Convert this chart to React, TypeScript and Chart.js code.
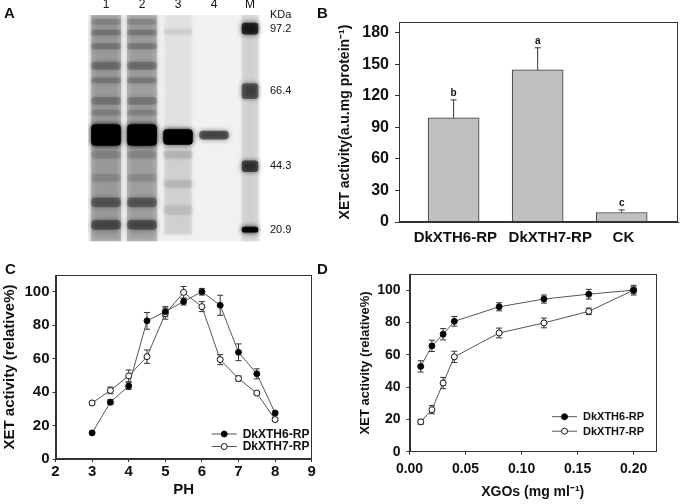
import React, { useEffect, useRef } from "react";
import { Chart, registerables } from "chart.js";

Chart.register(...registerables);

const FONT = "'Liberation Sans', Arial, Helvetica, sans-serif";
Chart.defaults.font.family = FONT;
Chart.defaults.color = "#111";

// ---------------- Panel A : SDS-PAGE gel ----------------
const gelLanes = ["1", "2", "3", "4", "M"];
const gelDepth = 232;
const sampleSmearAlpha = [0.2, 0.19, 0.0, 0.0];
const lane3SmearTop = [0, 135];
const lane3SmearBottom = [120, 225];
const lane3SmearAlpha = [0.03, 0.07];
const lane12Centers = [7, 18, 32, 52, 67, 88, 100, 123, 143, 167, 192, 215];
const lane12Half = [3, 3, 3, 4, 3, 4, 3, 11, 4, 4, 5, 5];
const lane12Alpha = [0.1, 0.16, 0.16, 0.2, 0.16, 0.16, 0.12, 1, 0.1, 0.08, 0.3, 0.36];
const lane3Centers = [17, 125, 143, 173, 200];
const lane3Half = [3, 8, 4, 4, 5];
const lane3Alpha = [0.05, 1, 0.08, 0.07, 0.05];
const lane4Centers = [123];
const lane4Half = [4.5];
const lane4Alpha = [0.5];
const markerCenters = [14, 78, 155, 220];
const markerHalf = [6, 8, 6, 3];
const markerAlpha = [0.7, 0.45, 0.55, 0.95];
const markerKDa = ["97.2", "66.4", "44.3", "20.9"];

// ---------------- Panel B ----------------
const bCategories = ["DkXTH6-RP", "DkXTH7-RP", "CK"];
const bValues = [99, 144.5, 9];
const bErrors = [17, 21, 2.5];
const bLetters = ["b", "a", "c"];
const bLabelAt = [1.02, 2.15, 3.02];

// ---------------- Panel C ----------------
const phValues = [3, 3.5, 4, 4.5, 5, 5.5, 6, 6.5, 7, 7.5, 8];
const cXTH6 = [15.6, 34, 43.6, 82.6, 88.1, 94.1, 100, 91.9, 63.8, 50.9, 27.5];
const cXTH6Err = [1, 1.5, 2, 5, 3, 2, 2, 6, 5, 3, 1];
const cXTH7 = [33.5, 41, 49.7, 61.2, 86.9, 99.6, 91.1, 59.4, 48.1, 39.4, 23.6];
const cXTH7Err = [1, 2, 3.5, 4, 3.3, 3.5, 3, 3, 1.5, 1, 1];

// ---------------- Panel D ----------------
const xgoValues = [0.01, 0.02, 0.03, 0.04, 0.08, 0.12, 0.16, 0.2];
const dXTH6 = [52.8, 65.5, 72.7, 80.7, 89.7, 94.5, 97.5, 100];
const dXTH6Err = [3.5, 3.5, 3.5, 3, 2.5, 2.5, 3, 2];
const dXTH7 = [18.5, 26, 42.5, 58.7, 73.5, 79.7, 86.9, 100];
const dXTH7Err = [1.5, 2.5, 3.5, 3.5, 3, 3, 2, 3];

const seriesLabels = ["DkXTH6-RP", "DkXTH7-RP"];

// ---------------- helpers ----------------
const black = (a: number) => `rgba(0,0,0,${a})`;

function bandData(lane: string, centers: number[], half: number[], extra = 0) {
  return centers.map((c, i) => ({ x: lane, y: [Math.max(0, c - half[i] - extra), Math.min(gelDepth, c + half[i] + extra)] }));
}

const framePlugin = {
  id: "frame",
  afterDraw(chart: any) {
    const { ctx, chartArea } = chart;
    ctx.save();
    ctx.strokeStyle = "#333";
    ctx.lineWidth = 1;
    ctx.strokeRect(Math.round(chartArea.left) + 0.5, Math.round(chartArea.top) + 0.5,
      Math.round(chartArea.right - chartArea.left) - 1, Math.round(chartArea.bottom - chartArea.top) - 1);
    ctx.restore();
  },
};

function errorBarPlugin(errs: number[][], cap: number) {
  return {
    id: "errbars",
    beforeDatasetsDraw(chart: any) {
      const { ctx } = chart;
      const xs = chart.scales.x;
      const ys = chart.scales.y;
      ctx.save();
      ctx.strokeStyle = "#333";
      ctx.lineWidth = 1;
      chart.data.datasets.forEach((ds: any, di: number) => {
        const e = errs[di];
        ds.data.forEach((p: any, i: number) => {
          if (!e[i]) return;
          const x = xs.getPixelForValue(p.x);
          const y1 = ys.getPixelForValue(p.y + e[i]);
          const y2 = ys.getPixelForValue(p.y - e[i]);
          ctx.beginPath();
          ctx.moveTo(x, y1);
          ctx.lineTo(x, y2);
          ctx.moveTo(x - cap, y1);
          ctx.lineTo(x + cap, y1);
          ctx.moveTo(x - cap, y2);
          ctx.lineTo(x + cap, y2);
          ctx.stroke();
        });
      });
      ctx.restore();
    },
  };
}

function legendPlugin(fromRight: number, fromBottom: number, rowGap: number, fontSize: number) {
  return {
    id: "customLegend",
    afterDraw(chart: any) {
      const { ctx, chartArea } = chart;
      ctx.save();
      chart.data.datasets.forEach((ds: any, i: number) => {
        const x0 = chartArea.right - fromRight;
        const y = chartArea.bottom - fromBottom + i * rowGap;
        ctx.strokeStyle = ds.borderColor;
        ctx.lineWidth = 1;
        ctx.beginPath();
        ctx.moveTo(x0, y);
        ctx.lineTo(x0 + 25, y);
        ctx.stroke();
        ctx.beginPath();
        ctx.arc(x0 + 12.5, y, 3, 0, Math.PI * 2);
        ctx.fillStyle = ds.pointBackgroundColor;
        ctx.fill();
        ctx.strokeStyle = ds.pointBorderColor;
        ctx.stroke();
        ctx.fillStyle = "#111";
        ctx.font = `bold ${fontSize}px ${FONT}`;
        ctx.textBaseline = "middle";
        ctx.textAlign = "left";
        ctx.fillText(ds.label, x0 + 31, y + 0.5);
      });
      ctx.restore();
    },
  };
}

// ---------------- configs ----------------
function gelConfig(): any {
  const common = { grouped: false, categoryPercentage: 1, borderWidth: 0, borderSkipped: false };
  const sampleAlpha = [...lane12Alpha, ...lane12Alpha, ...lane3Alpha, ...lane4Alpha];
  const sampleBands = [
    ...bandData("1", lane12Centers, lane12Half),
    ...bandData("2", lane12Centers, lane12Half),
    ...bandData("3", lane3Centers, lane3Half),
    ...bandData("4", lane4Centers, lane4Half),
  ];
  return {
    type: "bar",
    data: {
      labels: gelLanes,
      datasets: [
        {
          ...common,
          barPercentage: 0.84,
          data: gelLanes.slice(0, 4).map((l) => ({ x: l, y: [0, gelDepth] })),
          backgroundColor: sampleSmearAlpha.map(black),
        },
        {
          ...common,
          barPercentage: 0.76,
          data: lane3SmearTop.map((t, i) => ({ x: "3", y: [t, lane3SmearBottom[i]] })),
          backgroundColor: lane3SmearAlpha.map(black),
        },
        {
          ...common,
          barPercentage: 0.46,
          data: [{ x: "M", y: [0, gelDepth] }],
          backgroundColor: [black(0.07)],
        },
        {
          ...common,
          barPercentage: 0.82,
          data: sampleBands,
          backgroundColor: sampleAlpha.map(black),
          borderRadius: 4,
        },
        {
          ...common,
          barPercentage: 0.46,
          data: bandData("M", markerCenters, markerHalf),
          backgroundColor: markerAlpha.map(black),
          borderRadius: 3,
        },
      ],
    },
    options: {
      animation: false,
      responsive: false,
      layout: { padding: { left: 88, top: 0, right: 0, bottom: 3 } },
      plugins: { legend: { display: false }, tooltip: { enabled: false } },
      scales: {
        x: {
          type: "category",
          position: "top",
          offset: true,
          grid: { display: false, drawTicks: false },
          border: { display: false },
          ticks: { font: { size: 12 }, padding: 3, color: "#111" },
          afterFit: (s: any) => { s.height = 15; },
        },
        y: {
          type: "linear",
          position: "right",
          reverse: true,
          min: 0,
          max: gelDepth,
          grid: { display: false, drawTicks: false },
          border: { display: false },
          afterBuildTicks: (s: any) => { s.ticks = markerCenters.map((v) => ({ value: v })); },
          ticks: { font: { size: 11 }, padding: 2, color: "#111", callback: (_v: any, i: number) => markerKDa[i] },
          afterFit: (s: any) => { s.width = 42; },
        },
      },
    },
    plugins: [
      {
        id: "gelbg",
        beforeDatasetsDraw(chart: any) {
          const { ctx, chartArea } = chart;
          ctx.save();
          ctx.fillStyle = "#f1f1f1";
          ctx.fillRect(chartArea.left, chartArea.top, chartArea.right - 8 - chartArea.left, chartArea.bottom - chartArea.top);
          ctx.restore();
          ctx.save();
          ctx.shadowColor = "rgba(0,0,0,1)";
          ctx.shadowBlur = 5;
          ctx.shadowOffsetX = 0;
          ctx.shadowOffsetY = 0;
        },
        afterDatasetsDraw(chart: any) {
          chart.ctx.restore();
        },
        afterDraw(chart: any) {
          const { ctx, chartArea } = chart;
          ctx.save();
          ctx.fillStyle = "#111";
          ctx.font = `11px ${FONT}`;
          ctx.textBaseline = "middle";
          ctx.fillText("KDa", chartArea.right + 2, chartArea.top);
          ctx.restore();
        },
      },
    ],
  };
}

function barConfig(): any {
  return {
    type: "bar",
    data: {
      datasets: [
        {
          data: bValues.map((v, i) => ({ x: i + 1, y: v })),
          backgroundColor: "#c0c0c0",
          borderColor: "#3a3a3a",
          borderWidth: 1,
          borderSkipped: "bottom",
          barThickness: 51,
        },
      ],
    },
    options: {
      animation: false,
      responsive: false,
      layout: { padding: { left: 0, top: 22, right: 2, bottom: 0 } },
      plugins: { legend: { display: false }, tooltip: { enabled: false } },
      scales: {
        x: {
          type: "linear",
          offset: false,
          min: 0.35,
          max: 3.67,
          afterBuildTicks: (s: any) => { s.ticks = bLabelAt.map((v) => ({ value: v })); },
          ticks: { callback: (_v: any, i: number) => bCategories[i], font: { size: 15, weight: "bold" }, padding: 7, color: "#111", maxRotation: 0, autoSkip: false },
          grid: { display: false, drawTicks: false },
          border: { color: "#333" },
          afterFit: (s: any) => { s.height = 28; },
        },
        y: {
          min: 0,
          max: 190,
          ticks: { stepSize: 30, includeBounds: false, font: { size: 16, weight: "bold" }, padding: 6, color: "#111" },
          grid: { drawOnChartArea: false, tickLength: 4, color: "#333" },
          border: { color: "#333" },
          title: { display: true, text: "XET activity(a.u.mg protein⁻¹)", font: { size: 14, weight: "bold" }, color: "#111", padding: { top: 6.6, bottom: 0 } },
          afterFit: (s: any) => { s.width = 69; },
        },
      },
    },
    plugins: [
      framePlugin,
      {
        id: "barErr",
        afterDatasetsDraw(chart: any) {
          const { ctx } = chart;
          const ys = chart.scales.y;
          const meta = chart.getDatasetMeta(0);
          ctx.save();
          ctx.strokeStyle = "#333";
          ctx.lineWidth = 1;
          meta.data.forEach((bar: any, i: number) => {
            const y0 = ys.getPixelForValue(bValues[i]);
            const y1 = ys.getPixelForValue(bValues[i] + bErrors[i]);
            ctx.beginPath();
            ctx.moveTo(bar.x, y0);
            ctx.lineTo(bar.x, y1);
            ctx.moveTo(bar.x - 3, y1);
            ctx.lineTo(bar.x + 3, y1);
            ctx.stroke();
            ctx.fillStyle = "#111";
            ctx.font = `bold 10px ${FONT}`;
            ctx.textAlign = "center";
            ctx.textBaseline = "alphabetic";
            ctx.fillText(bLetters[i], bar.x, y1 - 4);
          });
          ctx.restore();
        },
      },
    ],
  };
}

function lineConfig(p: {
  xs: number[];
  s1: number[];
  s2: number[];
  e1: number[];
  e2: number[];
  xMin: number;
  xMax: number;
  xStep: number;
  xFmt: (v: number) => string;
  xTitle: string;
  tickSize: number;
  yTitleSize: number;
  xTitleSize: number;
  pad: { left: number; top: number; right: number; bottom: number };
  yWidth: number;
  xHeight: number;
  xTickPad: number;
  yTickPad: number;
  xTitlePadBottom: number;
  yTitlePadTop: number;
  legend: [number, number, number, number];
}): any {
  const mk = (label: string, ys: number[], fill: string) => ({
    label,
    data: p.xs.map((x, i) => ({ x, y: ys[i] })),
    borderColor: "#555",
    borderWidth: 1,
    pointRadius: 3,
    pointHoverRadius: 3,
    pointBackgroundColor: fill,
    pointBorderColor: "#111",
    pointBorderWidth: 1,
    tension: 0,
    fill: false,
  });
  return {
    type: "line",
    data: { datasets: [mk(seriesLabels[0], p.s1, "#000"), mk(seriesLabels[1], p.s2, "#fff")] },
    options: {
      animation: false,
      responsive: false,
      layout: { padding: p.pad },
      plugins: { legend: { display: false }, tooltip: { enabled: false } },
      scales: {
        x: {
          type: "linear",
          min: p.xMin,
          max: p.xMax,
          ticks: { stepSize: p.xStep, includeBounds: false, callback: (v: any) => p.xFmt(Number(v)), font: { size: p.tickSize, weight: "bold" }, padding: p.xTickPad, color: "#111", maxRotation: 0 },
          grid: { drawOnChartArea: false, tickLength: 3, color: "#333" },
          border: { color: "#333" },
          title: { display: true, text: p.xTitle, font: { size: p.xTitleSize, weight: "bold" }, color: "#111", padding: { top: 0, bottom: p.xTitlePadBottom } },
          afterFit: (s: any) => { s.height = p.xHeight; },
        },
        y: {
          min: 0,
          max: 110,
          ticks: { stepSize: 20, includeBounds: false, font: { size: p.tickSize, weight: "bold" }, padding: p.yTickPad, color: "#111" },
          grid: { drawOnChartArea: false, tickLength: 3, color: "#333" },
          border: { color: "#333" },
          title: { display: true, text: "XET activity (relative%)", font: { size: p.yTitleSize, weight: "bold" }, color: "#111", padding: { top: p.yTitlePadTop, bottom: 0 } },
          afterFit: (s: any) => { s.width = p.yWidth; },
        },
      },
    },
    plugins: [framePlugin, errorBarPlugin([p.e1, p.e2], 3), legendPlugin(...p.legend)],
  };
}

// ---------------- components ----------------
function ChartCanvas({ left, top, width, height, make }: { left: number; top: number; width: number; height: number; make: () => any }) {
  const ref = useRef<HTMLCanvasElement>(null);
  useEffect(() => {
    const chart = new Chart(ref.current as HTMLCanvasElement, make());
    return () => chart.destroy();
  }, []);
  return (
    <canvas
      ref={ref}
      width={width}
      height={height}
      style={{ position: "absolute", left, top, width, height, display: "block" }}
    />
  );
}

const letterStyle = (left: number, top: number): React.CSSProperties => ({
  position: "absolute",
  left,
  top,
  font: `bold 15px ${FONT}`,
  lineHeight: "15px",
  color: "#111",
});

export default function App() {
  return (
    <div style={{ position: "absolute", left: 0, top: 0, width: 680, height: 504, background: "#fff", overflow: "hidden" }}>
      <ChartCanvas left={0} top={0} width={310} height={250} make={gelConfig} />
      <ChartCanvas left={330} top={0} width={350} height={250} make={barConfig} />
      <ChartCanvas
        left={0}
        top={250}
        width={340}
        height={254}
        make={() =>
          lineConfig({
            xs: phValues,
            s1: cXTH6,
            s2: cXTH7,
            e1: cXTH6Err,
            e2: cXTH7Err,
            xMin: 2,
            xMax: 9,
            xStep: 1,
            xFmt: (v) => String(v),
            xTitle: "PH",
            tickSize: 15,
            yTitleSize: 15,
            xTitleSize: 15,
            pad: { left: 0, top: 25, right: 28.3, bottom: 0 },
            yWidth: 55.5,
            xHeight: 45,
            xTickPad: 1,
            yTickPad: 3,
            xTitlePadBottom: 5,
            yTitlePadTop: 1,
            legend: [100, 25, 12.5, 12],
          })
        }
      />
      <ChartCanvas
        left={340}
        top={250}
        width={340}
        height={254}
        make={() =>
          lineConfig({
            xs: xgoValues,
            s1: dXTH6,
            s2: dXTH7,
            e1: dXTH6Err,
            e2: dXTH7Err,
            xMin: 0,
            xMax: 0.22,
            xStep: 0.05,
            xFmt: (v) => v.toFixed(2),
            xTitle: "XGOs (mg ml⁻¹)",
            tickSize: 14,
            yTitleSize: 13,
            xTitleSize: 14,
            pad: { left: 0, top: 24, right: 24, bottom: 0 },
            yWidth: 69.5,
            xHeight: 52.3,
            xTickPad: 6,
            yTickPad: 6,
            xTitlePadBottom: 3.6,
            yTitlePadTop: 17.2,
            legend: [104, 35, 14.5, 11],
          })
        }
      />
      <div style={letterStyle(4, 5)}>A</div>
      <div style={letterStyle(317, 5)}>B</div>
      <div style={letterStyle(5, 261)}>C</div>
      <div style={letterStyle(317, 261)}>D</div>
    </div>
  );
}
